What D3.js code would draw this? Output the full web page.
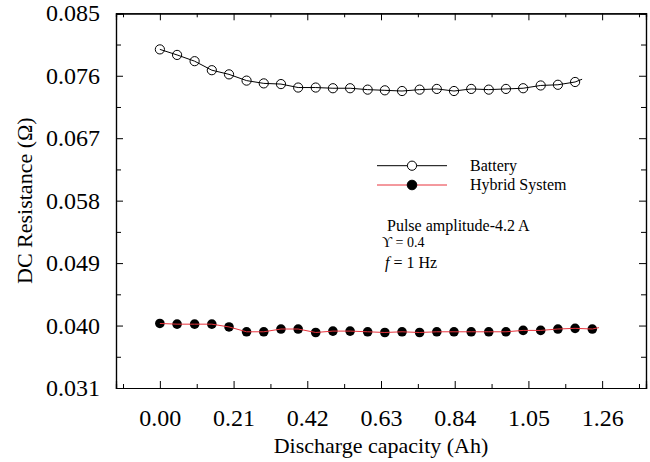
<!DOCTYPE html>
<html>
<head>
<meta charset="utf-8">
<script src="https://cdn.jsdelivr.net/npm/d3@7/dist/d3.min.js"></script>
<style>
  html, body { margin: 0; padding: 0; background: #fff; }
  svg { display: block; }
  text { font-family: "Liberation Serif", "Times New Roman", serif; fill: #000; }
</style>
</head>
<body>
<svg id="chart" width="650" height="462"></svg>
<script>
// ---- data ----
const batteryX = [0, 0.049, 0.099, 0.148, 0.197, 0.247, 0.296, 0.345, 0.394, 0.444, 0.493, 0.542, 0.592,
                  0.641, 0.690, 0.740, 0.789, 0.838, 0.887, 0.937, 0.986, 1.035, 1.085, 1.134, 1.183];
const batteryY = [0.0798, 0.0790, 0.0781, 0.0768, 0.0762, 0.0753, 0.0749, 0.0748, 0.0743, 0.0743, 0.0742, 0.0742,
                  0.0740, 0.0739, 0.0738, 0.0740, 0.0741, 0.0738, 0.0741, 0.0740, 0.0741, 0.0742, 0.0746, 0.0747, 0.0751];
const batteryLineEnd = [1.203, 0.0755];

const hybridX = [0, 0.049, 0.099, 0.148, 0.197, 0.247, 0.296, 0.345, 0.394, 0.444, 0.493, 0.542, 0.592,
                 0.641, 0.690, 0.740, 0.789, 0.838, 0.887, 0.937, 0.986, 1.035, 1.085, 1.134, 1.183, 1.232];
const hybridY = [0.0403, 0.0402, 0.0402, 0.0402, 0.0398, 0.0391, 0.0391, 0.0395, 0.0395, 0.0390, 0.0392, 0.0392,
                 0.0391, 0.0390, 0.0391, 0.0390, 0.0391, 0.0391, 0.0391, 0.0391, 0.0391, 0.0393, 0.0393, 0.0395, 0.0396, 0.0395];
const hybridLineEnd = [1.251, 0.0397];

const xTicks = [0, 0.21, 0.42, 0.63, 0.84, 1.05, 1.26];
const xMinorTicks = [-0.105, 0.105, 0.315, 0.525, 0.735, 0.945, 1.155, 1.365];
const yTicks = [0.031, 0.040, 0.049, 0.058, 0.067, 0.076, 0.085];
const yMinorTicks = [0.0355, 0.0445, 0.0535, 0.0625, 0.0715, 0.0805];

const seriesNames = ["Battery", "Hybrid System"];
const annotations = ["Pulse amplitude-4.2 A", "ϒ = 0.4"];

// ---- layout ----
const L = 116, R = 646, T = 13.3, B = 388;
const svg = d3.select("#chart");
const x = d3.scaleLinear().domain([-0.125, 1.385]).range([L, R]);
const y = d3.scaleLinear().domain([0.031, 0.085]).range([B, T]);
const fmtX = d3.format(".2f"), fmtY = d3.format(".3f");

function drawAxis(axis, tr) {
  const g = svg.append("g").attr("transform", tr).call(axis);
  g.selectAll("line").attr("stroke", "#000").attr("stroke-width", 1);
  g.select(".domain").attr("stroke", "#000").attr("stroke-width", 1.2);
  return g;
}
// minor ticks
drawAxis(d3.axisBottom(x).tickValues(xMinorTicks).tickSize(-4).tickFormat(""), `translate(0,${B})`);
drawAxis(d3.axisTop(x).tickValues(xMinorTicks).tickSize(-4).tickFormat(""), `translate(0,${T})`);
drawAxis(d3.axisLeft(y).tickValues(yMinorTicks).tickSize(-5).tickFormat(""), `translate(${L},0)`);
drawAxis(d3.axisRight(y).tickValues(yMinorTicks).tickSize(-5).tickFormat(""), `translate(${R},0)`);

// major ticks
const gx = drawAxis(d3.axisBottom(x).tickValues(xTicks).tickSize(-7).tickPadding(21).tickFormat(fmtX), `translate(0,${B})`);
gx.selectAll("text").attr("font-size", 24).attr("font-family", "Liberation Serif");
drawAxis(d3.axisTop(x).tickValues(xTicks).tickSize(-7).tickFormat(""), `translate(0,${T})`);
const gy = drawAxis(d3.axisLeft(y).tickValues(yTicks).tickSize(-7).tickPadding(16).tickFormat(fmtY), `translate(${L},0)`);
gy.selectAll("text").attr("font-size", 24).attr("font-family", "Liberation Serif");
drawAxis(d3.axisRight(y).tickValues(yTicks).tickSize(-7).tickFormat(""), `translate(${R},0)`);

// axis titles
svg.append("text").attr("x", (L + R) / 2).attr("y", 453).attr("text-anchor", "middle")
  .attr("font-size", 22).text("Discharge capacity (Ah)");
svg.append("text").attr("transform", `translate(32,${(T + B) / 2}) rotate(-90)`).attr("text-anchor", "middle")
  .attr("font-size", 22).text("DC Resistance (Ω)");

// series
const bat = batteryX.map((v, i) => [v, batteryY[i]]);
const hyb = hybridX.map((v, i) => [v, hybridY[i]]);
const line = d3.line().x(d => x(d[0])).y(d => y(d[1]));

svg.append("path").datum(bat.concat([batteryLineEnd])).attr("d", line)
  .attr("fill", "none").attr("stroke", "#000").attr("stroke-width", 1);
svg.append("g").selectAll("circle").data(bat).join("circle")
  .attr("cx", d => x(d[0])).attr("cy", d => y(d[1])).attr("r", 4.6)
  .attr("fill", "none").attr("stroke", "#000").attr("stroke-width", 1);

svg.append("g").selectAll("circle").data(hyb).join("circle")
  .attr("cx", d => x(d[0])).attr("cy", d => y(d[1])).attr("r", 4.8)
  .attr("fill", "#000");
svg.append("path").datum(hyb.concat([hybridLineEnd])).attr("d", line)
  .attr("fill", "none").attr("stroke", "#e8333c").attr("stroke-width", 1);

// legend
const leg = [
  { name: seriesNames[0], yy: 165.7, color: "#000", filled: false },
  { name: seriesNames[1], yy: 185, color: "#e8333c", filled: true }
];
leg.forEach(d => {
  svg.append("line").attr("x1", 377).attr("x2", 447).attr("y1", d.yy).attr("y2", d.yy)
    .attr("stroke", d.color).attr("stroke-width", 1);
  svg.append("circle").attr("cx", 412).attr("cy", d.yy).attr("r", d.filled ? 4.8 : 4.6)
    .attr("fill", d.filled ? "#000" : "#fff").attr("stroke", "#000").attr("stroke-width", 1);
  svg.append("text").attr("x", 470).attr("y", d.yy + 5).attr("font-size", 16).text(d.name);
});

// annotations
svg.append("text").attr("x", 387).attr("y", 230.5).attr("font-size", 16).text(annotations[0]);
svg.append("text").attr("x", 382).attr("y", 247).attr("font-size", 14).text(annotations[1]);
const ft = svg.append("text").attr("x", 385).attr("y", 268).attr("font-size", 16);
ft.append("tspan").attr("font-style", "italic").text("f");
ft.append("tspan").text(" = 1 Hz");
</script>
</body>
</html>
